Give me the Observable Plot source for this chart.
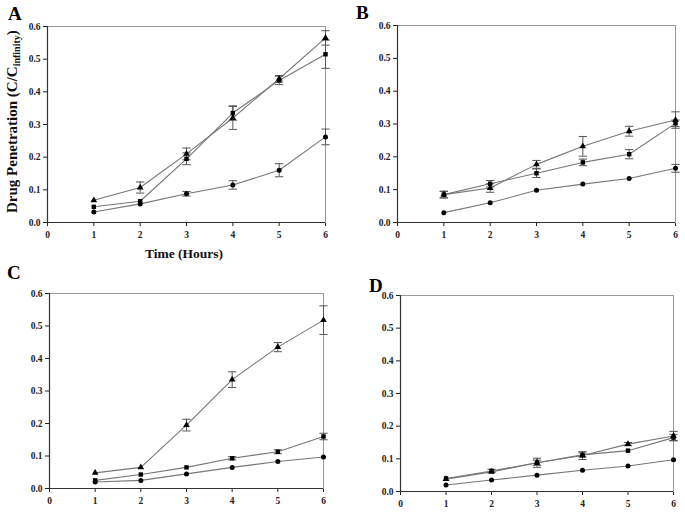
<!DOCTYPE html>
<html>
<head>
<meta charset="utf-8">
<script src="https://cdn.jsdelivr.net/npm/d3@7"></script>
<script src="https://cdn.jsdelivr.net/npm/@observablehq/plot@0.6"></script>
<style>
  html, body { margin: 0; padding: 0; background: #fff; }
  #wrap { position: relative; width: 685px; height: 517px; overflow: hidden; font-family: "Liberation Serif", "DejaVu Serif", serif; }
  .panel { position: absolute; }
  .letter { position: absolute; font-weight: bold; font-size: 19px; color: #000; line-height: 1; }
  .ylab { position: absolute; font-weight: bold; font-size: 15px; white-space: nowrap; transform-origin: 0 0; transform: rotate(-90deg); color: #111; }
  .ylab sub { font-size: 10px; vertical-align: -3px; }
  .xlab { position: absolute; font-weight: bold; font-size: 13.5px; white-space: nowrap; color: #111; }
</style>
</head>
<body>
<div id="wrap"></div>
<script>
// Time points (hours)
const hours = [1, 2, 3, 4, 5, 6];
const xTicks = [0, 1, 2, 3, 4, 5, 6];
const yTicks = [0, 0.1, 0.2, 0.3, 0.4, 0.5, 0.6];

// Panel A
const A_triangle = [0.068, 0.107, 0.210, 0.320, 0.440, 0.565];
const A_triangleErr = [0.003, 0.017, 0.018, 0.035, 0.010, 0.022];
const A_square = [0.048, 0.065, 0.195, 0.335, 0.435, 0.515];
const A_squareErr = [0.003, 0.004, 0.018, 0.022, 0.013, 0.043];
const A_circle = [0.032, 0.057, 0.088, 0.115, 0.160, 0.262];
const A_circleErr = [0.002, 0.003, 0.007, 0.013, 0.020, 0.024];

// Panel B
const B_triangle = [0.085, 0.105, 0.177, 0.232, 0.278, 0.312];
const B_triangleErr = [0.010, 0.013, 0.012, 0.030, 0.015, 0.025];
const B_square = [0.085, 0.118, 0.150, 0.183, 0.208, 0.302];
const B_squareErr = [0.010, 0.010, 0.013, 0.010, 0.014, 0.010];
const B_circle = [0.030, 0.060, 0.098, 0.117, 0.134, 0.165];
const B_circleErr = [0.002, 0.002, 0.003, 0.003, 0.003, 0.012];

// Panel C
const C_triangle = [0.048, 0.065, 0.195, 0.335, 0.435, 0.518];
const C_triangleErr = [0.002, 0.003, 0.018, 0.024, 0.014, 0.044];
const C_square = [0.025, 0.043, 0.065, 0.093, 0.113, 0.160];
const C_squareErr = [0.002, 0.003, 0.003, 0.005, 0.006, 0.010];
const C_circle = [0.020, 0.025, 0.045, 0.065, 0.083, 0.097];
const C_circleErr = [0.002, 0.002, 0.002, 0.003, 0.003, 0.003];

// Panel D
const D_triangle = [0.038, 0.060, 0.088, 0.110, 0.145, 0.170];
const D_triangleErr = [0.003, 0.004, 0.008, 0.012, 0.005, 0.014];
const D_square = [0.040, 0.063, 0.088, 0.112, 0.125, 0.165];
const D_squareErr = [0.004, 0.005, 0.014, 0.006, 0.004, 0.010];
const D_circle = [0.020, 0.035, 0.050, 0.065, 0.078, 0.097];
const D_circleErr = [0.002, 0.002, 0.002, 0.002, 0.004, 0.004];

const panels = [
  {key: "A", left: 0, top: 0, width: 340, height: 270, m: [26, 15, 48, 47],
   series: [["triangle", A_triangle, A_triangleErr], ["square", A_square, A_squareErr], ["circle", A_circle, A_circleErr]]},
  {key: "B", left: 340, top: 0, width: 345, height: 270, m: [25, 10, 48, 57],
   series: [["triangle", B_triangle, B_triangleErr], ["square", B_square, B_squareErr], ["circle", B_circle, B_circleErr]]},
  {key: "C", left: 0, top: 270, width: 340, height: 247, m: [23, 17, 29, 49],
   series: [["triangle", C_triangle, C_triangleErr], ["square", C_square, C_squareErr], ["circle", C_circle, C_circleErr]]},
  {key: "D", left: 340, top: 270, width: 345, height: 247, m: [25, 12, 26, 60],
   series: [["triangle", D_triangle, D_triangleErr], ["square", D_square, D_squareErr], ["circle", D_circle, D_circleErr]]}
];

const wrap = document.getElementById("wrap");
const cap = 0.09;

for (const p of panels) {
  const rows = [];
  for (const [shape, vals, errs] of p.series) {
    hours.forEach((h, i) => rows.push({shape, x: h, y: vals[i], e: errs[i]}));
  }
  const errRows = rows.filter(d => d.e >= 0.005);
  const plot = Plot.plot({
    width: p.width,
    height: p.height,
    marginTop: p.m[0], marginRight: p.m[1], marginBottom: p.m[2], marginLeft: p.m[3],
    style: {fontFamily: "'Liberation Serif', serif", fontSize: "9.5px", fontWeight: "bold", color: "#222", background: "transparent"},
    x: {domain: [0, 6], ticks: xTicks, tickSize: 4, tickPadding: 5, label: null, tickFormat: d3.format("d")},
    y: {domain: [0, 0.6], ticks: yTicks, tickSize: 4, tickPadding: 3, label: null, tickFormat: d3.format(".1f")},
    symbol: {domain: ["triangle", "square", "circle"], range: ["triangle", "square", "circle"]},
    marks: [
      Plot.frame({stroke: "#999", strokeWidth: 1}),
      Plot.ruleX([0], {stroke: "#333", strokeWidth: 1.2}),
      Plot.ruleY([0], {stroke: "#333", strokeWidth: 1.2}),
      Plot.line(rows, {x: "x", y: "y", z: "shape", stroke: "#777", strokeWidth: 1.1}),
      Plot.ruleX(errRows, {x: "x", y1: d => d.y - d.e, y2: d => d.y + d.e, stroke: "#555", strokeWidth: 1}),
      Plot.link(errRows, {x1: d => d.x - cap, x2: d => d.x + cap, y1: d => d.y + d.e, y2: d => d.y + d.e, stroke: "#555", strokeWidth: 1}),
      Plot.link(errRows, {x1: d => d.x - cap, x2: d => d.x + cap, y1: d => d.y - d.e, y2: d => d.y - d.e, stroke: "#555", strokeWidth: 1}),
      Plot.dot(rows, {x: "x", y: "y", symbol: "shape", fill: "#000", stroke: "none", r: 2.5})
    ]
  });
  plot.classList.add("panel");
  plot.style.left = p.left + "px";
  plot.style.top = p.top + "px";
  wrap.appendChild(plot);
}

function addText(cls, html, left, top) {
  const el = document.createElement("div");
  el.className = cls;
  el.innerHTML = html;
  el.style.left = left + "px";
  el.style.top = top + "px";
  wrap.appendChild(el);
  return el;
}
addText("letter", "A", 8, 4);
addText("letter", "B", 356, 3);
addText("letter", "C", 7, 263);
addText("letter", "D", 369, 276);

const yl = addText("ylab", "Drug Penetration (C/C<sub>infinity</sub>)", 4, 0);
const w = yl.getBoundingClientRect().height;
yl.style.top = (122 + w / 2) + "px";

const xl = addText("xlab", "Time (Hours)", 0, 246);
xl.style.left = (184 - xl.getBoundingClientRect().width / 2) + "px";
</script>
</body>
</html>
